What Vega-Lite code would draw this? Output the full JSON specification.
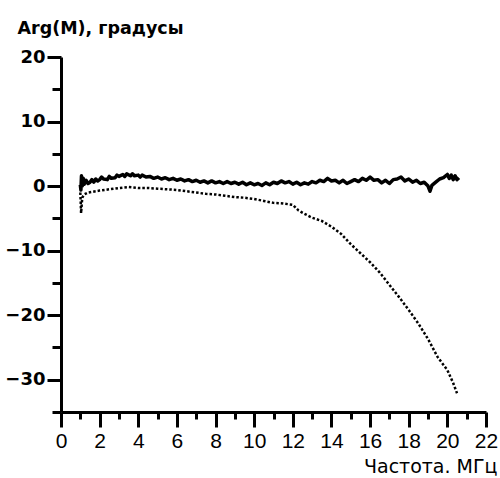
{
  "$schema": "https://vega.github.io/schema/vega-lite/v6.json",
  "autosize": "none",
  "width": 425,
  "height": 355,
  "padding": {"left": 61, "top": 57, "right": 14, "bottom": 66},
  "background": "white",
  "config": {
    "view": {"stroke": null},
    "font": "DejaVu Sans",
    "axis": {"grid": false, "domainColor": "black", "tickColor": "black", "labelColor": "black", "titleColor": "black", "domainWidth": 3, "tickWidth": 3, "labelFlush": false, "labelOverlap": false}
  },
  "datasets": {
    "solid": [
      {"f": 1.0, "v": 0.2}, {"f": 1.03, "v": -0.6}, {"f": 1.06, "v": 1.6}, {"f": 1.1, "v": 0.0}, {"f": 1.15, "v": 1.2},
      {"f": 1.2, "v": 0.3}, {"f": 1.3, "v": 0.9}, {"f": 1.4, "v": 0.4}, {"f": 1.5, "v": 0.6}, {"f": 1.6, "v": 1.0},
      {"f": 1.7, "v": 0.6}, {"f": 1.8, "v": 1.1}, {"f": 1.9, "v": 0.8}, {"f": 2.0, "v": 1.0}, {"f": 2.1, "v": 1.4},
      {"f": 2.2, "v": 1.1}, {"f": 2.4, "v": 1.0}, {"f": 2.5, "v": 1.5}, {"f": 2.6, "v": 1.2}, {"f": 2.8, "v": 1.3},
      {"f": 2.9, "v": 1.7}, {"f": 3.0, "v": 1.5}, {"f": 3.2, "v": 1.8}, {"f": 3.3, "v": 1.5}, {"f": 3.4, "v": 1.9},
      {"f": 3.6, "v": 1.6}, {"f": 3.7, "v": 1.9}, {"f": 3.8, "v": 1.6}, {"f": 4.0, "v": 1.7}, {"f": 4.1, "v": 1.4},
      {"f": 4.2, "v": 1.7}, {"f": 4.4, "v": 1.4}, {"f": 4.6, "v": 1.5}, {"f": 4.8, "v": 1.2}, {"f": 5.0, "v": 1.4},
      {"f": 5.2, "v": 1.1}, {"f": 5.4, "v": 1.3}, {"f": 5.6, "v": 1.0}, {"f": 5.8, "v": 1.2}, {"f": 6.0, "v": 0.9},
      {"f": 6.2, "v": 1.1}, {"f": 6.4, "v": 0.8}, {"f": 6.6, "v": 1.0}, {"f": 6.8, "v": 0.7}, {"f": 7.0, "v": 0.9},
      {"f": 7.2, "v": 0.6}, {"f": 7.4, "v": 0.8}, {"f": 7.6, "v": 0.5}, {"f": 7.8, "v": 0.8}, {"f": 8.0, "v": 0.5},
      {"f": 8.2, "v": 0.7}, {"f": 8.4, "v": 0.4}, {"f": 8.6, "v": 0.7}, {"f": 8.8, "v": 0.4}, {"f": 9.0, "v": 0.6},
      {"f": 9.2, "v": 0.3}, {"f": 9.4, "v": 0.6}, {"f": 9.6, "v": 0.2}, {"f": 9.8, "v": 0.5}, {"f": 10.0, "v": 0.2},
      {"f": 10.2, "v": 0.4}, {"f": 10.4, "v": 0.1}, {"f": 10.6, "v": 0.5}, {"f": 10.8, "v": 0.2}, {"f": 11.0, "v": 0.6},
      {"f": 11.2, "v": 0.4}, {"f": 11.4, "v": 0.8}, {"f": 11.6, "v": 0.5}, {"f": 11.8, "v": 0.7}, {"f": 12.0, "v": 0.3},
      {"f": 12.2, "v": 0.6}, {"f": 12.4, "v": 0.2}, {"f": 12.6, "v": 0.5}, {"f": 12.8, "v": 0.3}, {"f": 13.0, "v": 0.7},
      {"f": 13.2, "v": 0.5}, {"f": 13.4, "v": 0.9}, {"f": 13.6, "v": 0.7}, {"f": 13.8, "v": 1.2}, {"f": 14.0, "v": 0.8},
      {"f": 14.2, "v": 0.9}, {"f": 14.4, "v": 0.5}, {"f": 14.6, "v": 0.9}, {"f": 14.8, "v": 0.4}, {"f": 15.0, "v": 0.7},
      {"f": 15.2, "v": 1.0}, {"f": 15.4, "v": 0.7}, {"f": 15.6, "v": 1.2}, {"f": 15.8, "v": 0.9}, {"f": 16.0, "v": 1.4},
      {"f": 16.2, "v": 0.9}, {"f": 16.4, "v": 1.0}, {"f": 16.6, "v": 0.5}, {"f": 16.8, "v": 0.9}, {"f": 17.0, "v": 0.4},
      {"f": 17.2, "v": 1.0}, {"f": 17.4, "v": 1.1}, {"f": 17.6, "v": 1.4}, {"f": 17.8, "v": 0.8}, {"f": 18.0, "v": 1.1},
      {"f": 18.2, "v": 0.6}, {"f": 18.4, "v": 0.9}, {"f": 18.6, "v": 0.4}, {"f": 18.8, "v": 0.6}, {"f": 19.0, "v": 0.0},
      {"f": 19.1, "v": -0.8}, {"f": 19.2, "v": 0.1}, {"f": 19.4, "v": 0.6}, {"f": 19.6, "v": 1.1}, {"f": 19.8, "v": 1.3},
      {"f": 20.0, "v": 1.8}, {"f": 20.1, "v": 1.2}, {"f": 20.2, "v": 1.7}, {"f": 20.3, "v": 1.0}, {"f": 20.4, "v": 1.6},
      {"f": 20.5, "v": 1.0}, {"f": 20.6, "v": 1.3}
    ],
    "dotted": [
      {"f": 1.0, "v": -1.0}, {"f": 1.02, "v": -2.5}, {"f": 1.04, "v": -4.2}, {"f": 1.07, "v": -3.0}, {"f": 1.1, "v": -1.8},
      {"f": 1.2, "v": -1.3}, {"f": 1.4, "v": -1.0}, {"f": 1.6, "v": -0.9}, {"f": 2.0, "v": -0.7}, {"f": 2.5, "v": -0.5},
      {"f": 3.0, "v": -0.3}, {"f": 3.5, "v": -0.15}, {"f": 4.0, "v": -0.3}, {"f": 4.5, "v": -0.3}, {"f": 5.0, "v": -0.4},
      {"f": 5.5, "v": -0.5}, {"f": 6.0, "v": -0.6}, {"f": 6.5, "v": -0.8}, {"f": 7.0, "v": -1.0}, {"f": 7.5, "v": -1.2},
      {"f": 8.0, "v": -1.3}, {"f": 8.5, "v": -1.5}, {"f": 9.0, "v": -1.7}, {"f": 9.5, "v": -1.8}, {"f": 10.0, "v": -2.0},
      {"f": 10.5, "v": -2.3}, {"f": 11.0, "v": -2.6}, {"f": 11.5, "v": -2.7}, {"f": 12.0, "v": -2.9}, {"f": 12.3, "v": -3.8},
      {"f": 12.6, "v": -4.3}, {"f": 13.0, "v": -4.9}, {"f": 13.5, "v": -5.4}, {"f": 14.0, "v": -6.3}, {"f": 14.5, "v": -7.4},
      {"f": 15.0, "v": -9.0}, {"f": 15.5, "v": -10.4}, {"f": 16.0, "v": -11.8}, {"f": 16.5, "v": -13.4}, {"f": 17.0, "v": -15.3},
      {"f": 17.5, "v": -17.2}, {"f": 18.0, "v": -19.2}, {"f": 18.5, "v": -21.3}, {"f": 19.0, "v": -23.7}, {"f": 19.5, "v": -26.5},
      {"f": 20.0, "v": -28.5}, {"f": 20.3, "v": -30.5}, {"f": 20.5, "v": -32.1}
    ]
  },
  "layer": [
    {
      "data": {"name": "solid"},
      "mark": {"type": "line", "color": "black", "strokeWidth": 3.5, "strokeJoin": "round"},
      "encoding": {
        "x": {
          "field": "f", "type": "quantitative",
          "scale": {"domain": [0, 22], "nice": false, "zero": false},
          "axis": {
            "orient": "bottom", "values": [0, 2, 4, 6, 8, 10, 12, 14, 16, 18, 20, 22],
            "tickSize": 15, "labelFont": "Liberation Sans", "labelFontSize": 21, "labelPadding": 3,
            "title": "Частота. МГц", "titleFont": "DejaVu Sans", "titleFontSize": 19, "titleFontWeight": "normal",
            "titleAlign": "right", "titleBaseline": "alphabetic", "titleX": 436, "titleY": 60
          }
        },
        "y": {
          "field": "v", "type": "quantitative",
          "scale": {"domain": [-35, 20], "nice": false, "zero": false},
          "axis": {
            "orient": "left", "values": [-30, -20, -10, 0, 10, 20],
            "tickSize": 14, "labelFont": "DejaVu Sans", "labelFontSize": 18, "labelFontWeight": "bold", "labelPadding": 2,
            "title": "Arg(M), градусы", "titleFont": "DejaVu Sans", "titleFontSize": 17.5, "titleFontWeight": "bold", "titleAngle": 0,
            "titleAlign": "left", "titleBaseline": "alphabetic", "titleX": -44, "titleY": -24
          }
        }
      }
    },
    {
      "data": {"name": "dotted"},
      "mark": {"type": "line", "color": "black", "strokeWidth": 2.5, "strokeDash": [2.5, 2], "strokeCap": "butt"},
      "encoding": {
        "x": {
          "field": "f", "type": "quantitative",
          "axis": {"orient": "bottom", "values": [1, 3, 5, 7, 9, 11, 13, 15, 17, 19, 21], "tickSize": 7, "labels": false, "domain": false, "title": null}
        },
        "y": {
          "field": "v", "type": "quantitative",
          "axis": {"orient": "left", "values": [-35, -25, -15, -5, 5, 15], "tickSize": 9, "labels": false, "domain": false, "title": null}
        }
      }
    }
  ],
  "resolve": {"axis": {"x": "independent", "y": "independent"}}
}
